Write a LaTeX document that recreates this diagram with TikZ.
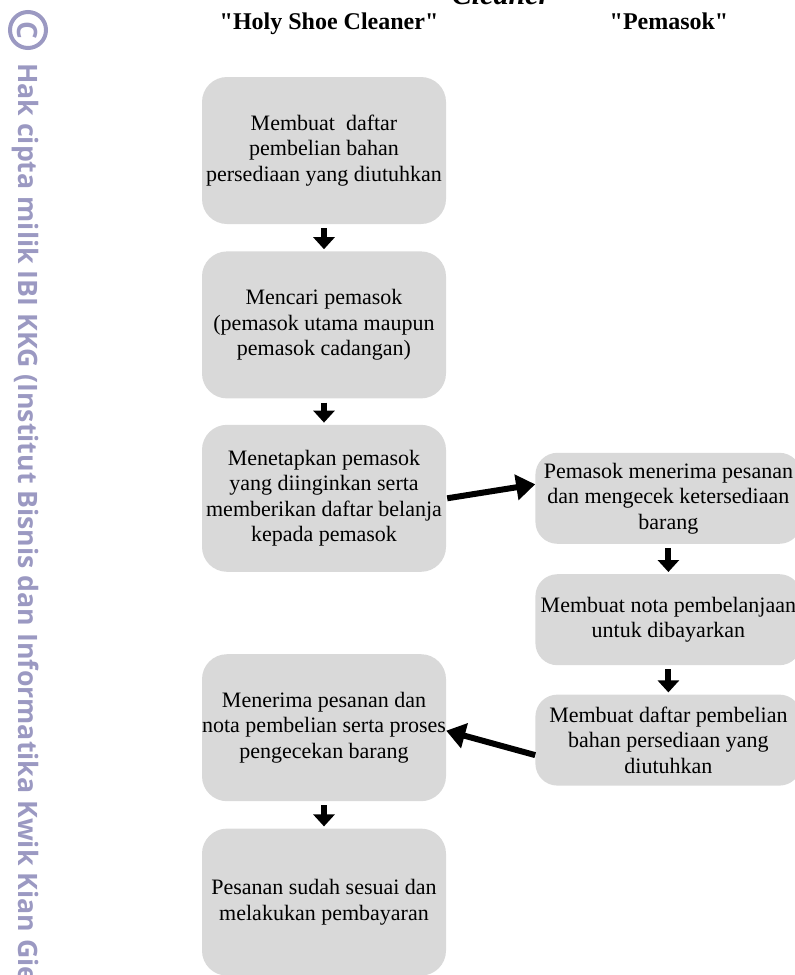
\documentclass[tikz,border=0pt]{standalone}
\usepackage{fontspec}
\setmainfont{Liberation Serif}
\newfontfamily\wmFont{Open Sans}
\usepackage{xcolor}
\definecolor{boxGray}{HTML}{D9D9D9}
\definecolor{wmLilac}{HTML}{9B99C2}
\usepackage{tikz}
\usetikzlibrary{positioning,arrows.meta}
\tikzset{%
  stepBox/.style={%
    rectangle,
    rounded corners=25pt,
    fill=boxGray,
    minimum width=244pt,
    minimum height=147pt,
    inner xsep=0pt,
    align=center
  },
  supplierBox/.style={%
    rectangle,
    rounded corners=22pt,
    fill=boxGray,
    minimum width=266pt,
    minimum height=91pt,
    inner xsep=0pt,
    align=center
  },
  downArrow/.style={%
    -{Triangle[length=12pt,width=21pt]},
    line width=6pt,
    shorten <=4pt,
    shorten >=2pt
  },
  sideArrow/.style={%
    -{Triangle[length=19pt,width=25pt]},
    line width=6pt
  },
  colTitle/.style={%
    font=\fontsize{24}{28}\selectfont\bfseries,
    anchor=base
  },
  watermark/.style={%
    text=wmLilac,
    inner sep=0pt,
    rotate=-90,
    font=\wmFont\bfseries\fontsize{26.7}{28}\selectfont
  }
}

\begin{document}
\begin{tikzpicture}[
                x=1pt, y=-1pt,
                every node/.style={font=\fontsize{22}{25.5}\selectfont}
            ]
            \useasboundingbox (0,0) rectangle (795,975);

            \node[watermark, circle, draw=wmLilac, line width=4pt, minimum size=36pt, font=\wmFont\bfseries\fontsize{28}{28}\selectfont] (wmCopy) at (28,30) {C};
            \node[watermark, anchor=base west] (wmText) at (18,63) {Hak cipta milik IBI KKG (Institut Bisnis dan Informatika Kwik Kian Gie};

            \node[font=\fontsize{30}{32}\selectfont\bfseries\itshape, anchor=base] (titleTop) at (501,4) {Cleaner};
            \node[colTitle] (titleShop) at (329,29) {\textquotedbl Holy Shoe Cleaner\textquotedbl};
            \node[colTitle] (titleSupplier) at (669,29) {\textquotedbl Pemasok\textquotedbl};

            \node[stepBox] (buatDaftar) at (324,150.5) {Membuat~~daftar\\pembelian bahan\\persediaan yang diutuhkan};
            \node[stepBox, below=27pt of buatDaftar] (cariPemasok) {Mencari pemasok\\(pemasok utama maupun\\pemasok cadangan)};
            \node[stepBox, below=26pt of cariPemasok] (tetapPemasok) {Menetapkan pemasok\\yang diinginkan serta\\memberikan daftar belanja\\kepada pemasok};
            \node[stepBox, below=82pt of tetapPemasok] (terimaPesanan) {Menerima pesanan dan\\nota pembelian serta proses\\pengecekan barang};
            \node[stepBox, below=27pt of terimaPesanan] (bayarPesanan) {Pesanan sudah sesuai dan\\melakukan pembayaran};

            \node[supplierBox, right=89pt of tetapPemasok] (cekBarang) {Pemasok menerima pesanan\\dan mengecek ketersediaan\\barang};
            \node[supplierBox, below=30pt of cekBarang] (buatNota) {Membuat nota pembelanjaan\\untuk dibayarkan};
            \node[supplierBox, below=29pt of buatNota] (daftarPemasok) {Membuat daftar pembelian\\bahan persediaan yang\\diutuhkan};

            \draw[downArrow] (buatDaftar) -- (cariPemasok);
            \draw[downArrow] (cariPemasok) -- (tetapPemasok);
            \draw[downArrow] (terimaPesanan) -- (bayarPesanan);
            \draw[downArrow] (cekBarang) -- (buatNota);
            \draw[downArrow] (buatNota) -- (daftarPemasok);
            \draw[sideArrow] ([xshift=1pt]tetapPemasok.east) -- ([yshift=14pt]cekBarang.west);
            \draw[sideArrow] ([yshift=-15pt]daftarPemasok.west) -- ([yshift=-3pt]terimaPesanan.east);
        \end{tikzpicture}
\end{document}
